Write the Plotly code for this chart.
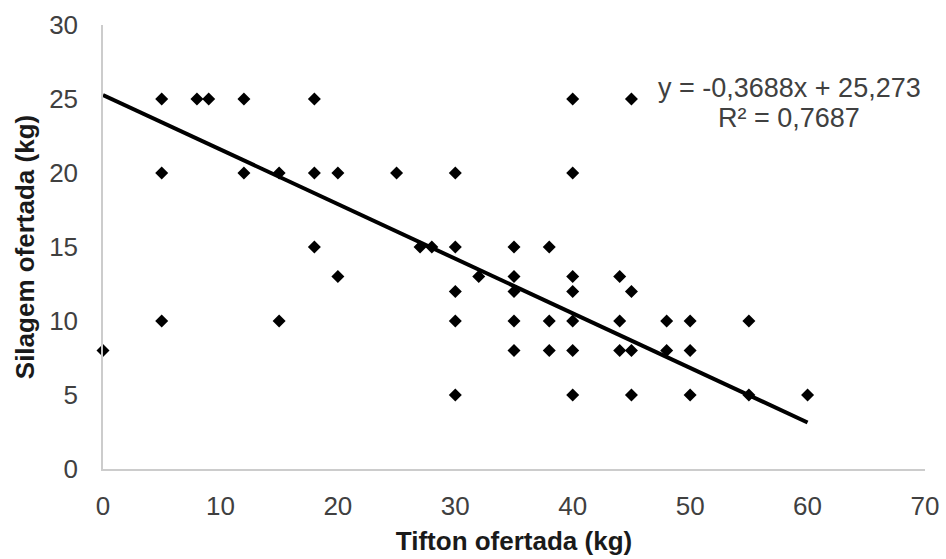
import plotly.graph_objects as go

# Data
tifton_kg = [0,
             5, 5, 5,
             8, 9,
             12, 12,
             15, 15,
             18, 18, 18,
             20, 20,
             25,
             27, 28,
             30, 30, 30, 30, 30,
             32,
             35, 35, 35, 35, 35,
             38, 38, 38,
             40, 40, 40, 40, 40, 40, 40,
             44, 44, 44,
             45, 45, 45, 45,
             48, 48,
             50, 50, 50,
             55, 55,
             60]
silagem_kg = [8,
              25, 20, 10,
              25, 25,
              25, 20,
              20, 10,
              25, 20, 15,
              20, 13,
              20,
              15, 15,
              20, 15, 12, 10, 5,
              13,
              15, 13, 12, 10, 8,
              15, 10, 8,
              25, 20, 13, 12, 10, 8, 5,
              13, 10, 8,
              25, 12, 8, 5,
              10, 8,
              10, 8, 5,
              10, 5,
              5]

trend_slope = -0.3688
trend_intercept = 25.273
trend_r2 = 0.7687

x_ticks = [0, 10, 20, 30, 40, 50, 60, 70]
y_ticks = [0, 5, 10, 15, 20, 25, 30]

x_title = "Tifton ofertada (kg)"
y_title = "Silagem ofertada (kg)"

FONT = "Liberation Sans, Arial, sans-serif"

trend_x = [min(tifton_kg), max(tifton_kg)]
trend_y = [trend_slope * v + trend_intercept for v in trend_x]

fig = go.Figure()
fig.add_trace(go.Scatter(
    x=trend_x, y=trend_y, mode="lines",
    line=dict(color="black", width=4),
    showlegend=False, hoverinfo="skip", cliponaxis=False,
))
fig.add_trace(go.Scatter(
    x=tifton_kg, y=silagem_kg, mode="markers",
    marker=dict(symbol="diamond", size=10, color="black", line=dict(width=0)),
    showlegend=False, cliponaxis=False,
))


def fmt(v, nd):
    return f"{v:.{nd}f}".replace(".", ",")


eq_line = f"y = {fmt(trend_slope, 4)}x + {fmt(trend_intercept, 3)}"
r2_line = f"R² = {fmt(trend_r2, 4)}"

for txt, ypos in [(eq_line, 25.74), (r2_line, 23.72)]:
    fig.add_annotation(
        x=58.43, y=ypos, xref="x", yref="y", text=txt, showarrow=False,
        xanchor="center", yanchor="middle", align="center",
        font=dict(family=FONT, size=27, color="#404040"),
    )

fig.update_layout(
    width=946, height=559,
    margin=dict(l=103, r=21, t=25, b=90, autoexpand=False),
    paper_bgcolor="white", plot_bgcolor="white",
    font=dict(family=FONT, size=26, color="#404040"),
)
fig.update_xaxes(
    range=[0, 70], tickvals=x_ticks, ticktext=[str(t) for t in x_ticks],
    showgrid=False, zeroline=False, showline=True, linecolor="#cccccc", linewidth=1.5,
    ticks="", ticklabelstandoff=13, automargin=False,
    tickfont=dict(family=FONT, size=26, color="#404040"),
    title=dict(text=f"<b>{x_title}</b>", standoff=12,
               font=dict(family=FONT, size=26, color="#1a1a1a")),
)
fig.update_yaxes(
    range=[0, 30], tickvals=y_ticks, ticktext=[str(t) for t in y_ticks],
    showgrid=False, zeroline=False, showline=True, linecolor="#cccccc", linewidth=1.5,
    ticks="", ticklabelstandoff=18, automargin=False,
    tickfont=dict(family=FONT, size=26, color="#404040"),
    title=dict(text=f"<b>{y_title}</b>", standoff=7,
               font=dict(family=FONT, size=26, color="#1a1a1a")),
)

fig.write_html("out.html")
